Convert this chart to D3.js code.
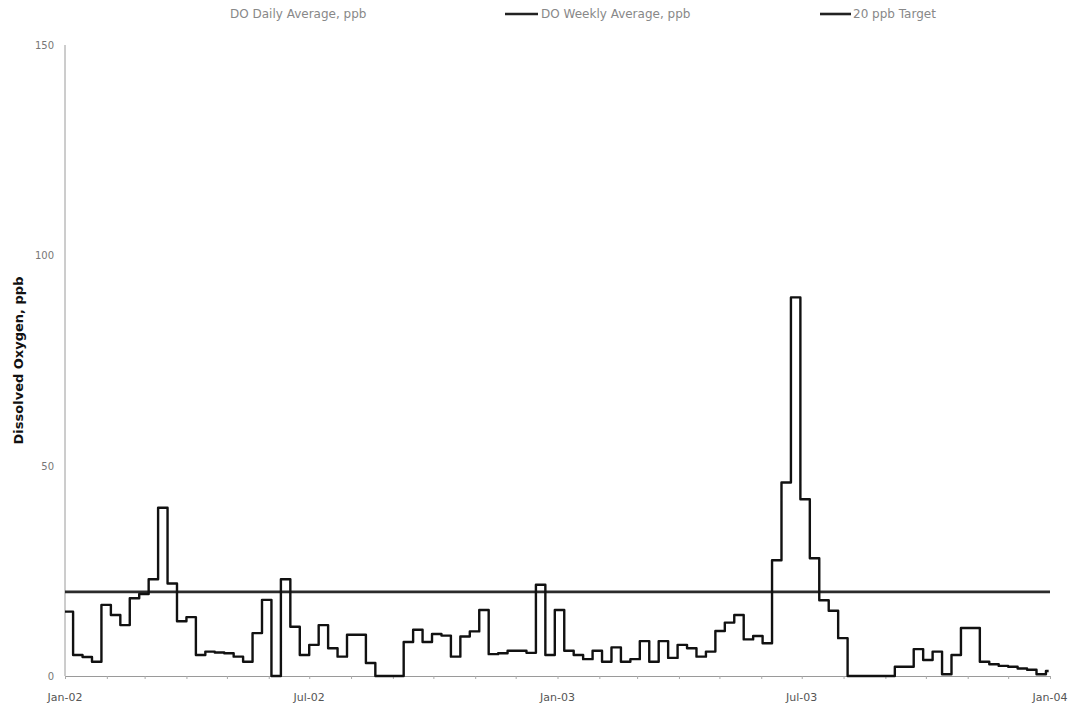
<!DOCTYPE html>
<html>
<head>
<meta charset="utf-8">
<script src="https://cdn.jsdelivr.net/npm/d3@7"></script>
<style>
  html, body { margin: 0; padding: 0; background: #fff; }
  svg { display: block; }
  text { font-family: "DejaVu Sans", Verdana, sans-serif; }
</style>
</head>
<body>
<svg id="chart" width="1072" height="708"></svg>
<script>
// ---- data ----
const seriesStart = "2002-01-01";
const firstWeek = "2002-01-07";
const seriesEnd = "2003-12-31";
const weeklyValues = [
  15.3, 5.0, 4.5, 3.4, 16.9, 14.5, 12.1, 18.5, 19.5, 23,
  40, 22, 13, 14, 5.0, 5.8, 5.6, 5.4, 4.6, 3.4,
  10.2, 18.1, 0, 23, 11.7, 5, 7.4, 12.1, 6.6, 4.6,
  9.8, 9.8, 3.1, 0, 0, 0, 8.1, 11, 8.1, 10,
  9.6, 4.6, 9.4, 10.6, 15.7, 5.2, 5.4, 6, 6, 5.5,
  21.7, 5, 15.7, 6, 5, 4, 6, 3.4, 6.8, 3.4,
  4.0, 8.3, 3.4, 8.3, 4.3, 7.4, 6.6, 4.6, 5.8, 10.7,
  12.7, 14.5, 8.7, 9.5, 7.8, 27.5, 46, 90, 42, 28,
  18, 15.5, 9, 0, 0, 0, 0, 0, 2.2, 2.2,
  6.4, 3.8, 5.8, 0.4, 5, 11.4, 11.4, 3.4, 2.8, 2.4,
  2.2, 1.8, 1.5, 0.4, 1.2
];
const targetValue = 20;
const yTicks = [0, 50, 100, 150];
const xTickLabels = ["2002-01-01", "2002-07-01", "2003-01-01", "2003-07-01", "2004-01-01"];
const legendLabels = ["DO Daily Average, ppb", "DO Weekly Average, ppb", "20 ppb Target"];
const yTitle = "Dissolved Oxygen, ppb";

// ---- build ----
const parse = d3.timeParse("%Y-%m-%d");
const fmt = d3.timeFormat("%b-%y");
const week0 = parse(firstWeek);
const series = weeklyValues.map((v, i) => ({
  date: i === 0 ? parse(seriesStart) : d3.timeDay.offset(week0, 7 * (i - 1)),
  value: v
}));
series.push({ date: parse(seriesEnd), value: weeklyValues[weeklyValues.length - 1] });

const svg = d3.select("#chart");
const x = d3.scaleTime().domain([parse("2002-01-01"), parse("2004-01-01")]).range([65, 1050]);
const y = d3.scaleLinear().domain([0, 150]).range([676, 45]);

// y axis line
svg.append("line").attr("x1", x.range()[0]).attr("x2", x.range()[0])
  .attr("y1", y(150)).attr("y2", y(0)).attr("stroke", "#9a9a9a").attr("stroke-width", 1);

// x axis
const xAxis = d3.axisBottom(x)
  .ticks(d3.timeMonth.every(1))
  .tickSize(3)
  .tickFormat("");
const gx = svg.append("g").attr("transform", `translate(0,${y(0)})`).call(xAxis);
gx.select(".domain").attr("stroke", "#9a9a9a");
gx.selectAll(".tick line").attr("stroke", "#aaa");

// x labels
svg.append("g").selectAll("text").data(xTickLabels).join("text")
  .attr("x", d => x(parse(d)))
  .attr("y", 701)
  .attr("text-anchor", "middle")
  .attr("font-size", 11)
  .attr("fill", "#555")
  .text(d => fmt(parse(d)));

// y labels
svg.append("g").selectAll("text").data(yTicks).join("text")
  .attr("x", 54)
  .attr("y", d => y(d) + 4)
  .attr("text-anchor", "end")
  .attr("font-size", 10)
  .attr("fill", "#777")
  .text(d => d);

// y title
svg.append("text")
  .attr("transform", `translate(23,${(y(0) + y(150)) / 2}) rotate(-90)`)
  .attr("text-anchor", "middle")
  .attr("font-size", 13)
  .attr("font-weight", "bold")
  .attr("fill", "#111")
  .text(yTitle);

// target line
svg.append("line")
  .attr("x1", x.range()[0]).attr("x2", x.range()[1])
  .attr("y1", y(targetValue)).attr("y2", y(targetValue))
  .attr("stroke", "#2b2b2b").attr("stroke-width", 2.6);

// weekly step line
const line = d3.line()
  .x(d => x(d.date))
  .y(d => y(d.value))
  .curve(d3.curveStepAfter);
svg.append("path")
  .datum(series)
  .attr("fill", "none")
  .attr("stroke", "#111")
  .attr("stroke-width", 2.4)
  .attr("stroke-linejoin", "round")
  .attr("d", line);

// legend
const lg = svg.append("g").attr("font-size", 12).attr("fill", "#888");
lg.append("text").attr("x", 230).attr("y", 18).text(legendLabels[0]);
lg.append("line").attr("x1", 505).attr("x2", 538).attr("y1", 14).attr("y2", 14)
  .attr("stroke", "#222").attr("stroke-width", 2.4);
lg.append("text").attr("x", 541).attr("y", 18).text(legendLabels[1]);
lg.append("line").attr("x1", 820).attr("x2", 851).attr("y1", 14).attr("y2", 14)
  .attr("stroke", "#222").attr("stroke-width", 2.6);
lg.append("text").attr("x", 853).attr("y", 18).text(legendLabels[2]);
</script>
</body>
</html>
